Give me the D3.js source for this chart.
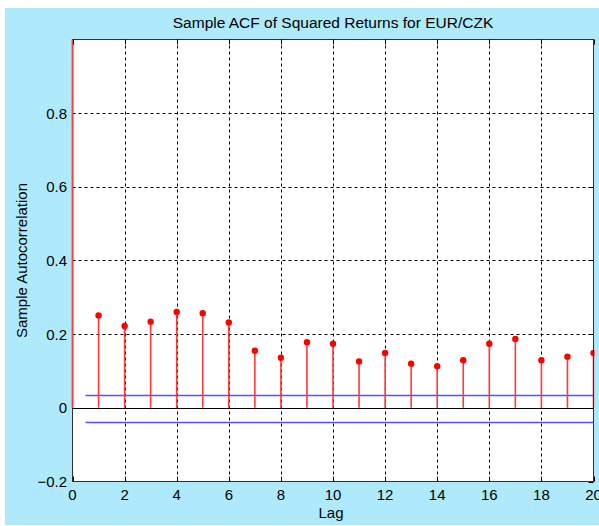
<!DOCTYPE html>
<html>
<head>
<meta charset="utf-8">
<script src="https://cdn.jsdelivr.net/npm/d3@7"></script>
<style>
  html, body { margin: 0; padding: 0; background: #ffffff; }
  svg { display: block; }
  text { font-family: Arial, "Liberation Sans", sans-serif; fill: #000; }
</style>
</head>
<body>
<svg id="chart" width="599" height="526"></svg>
<script>
// Sample autocorrelation of squared EUR/CZK returns, lags 0..20
const lags = d3.range(0, 21);
const acf = [1.0, 0.251, 0.222, 0.234, 0.260, 0.257, 0.232, 0.155, 0.136, 0.178, 0.174,
             0.126, 0.149, 0.120, 0.113, 0.129, 0.174, 0.187, 0.129, 0.139, 0.149];
const bounds = [0.0355, -0.0375];           // approximate 95% confidence bounds
const boundsLagRange = [0.5, 20];
const xTicks = [0, 2, 4, 6, 8, 10, 12, 14, 16, 18, 20];
const yTicks = [-0.2, 0, 0.2, 0.4, 0.6, 0.8];
const yGrid = [0.2, 0.4, 0.6, 0.8];
const xGrid = [2, 4, 6, 8, 10, 12, 14, 16, 18];

const svg = d3.select("#chart");

// figure background
svg.append("rect").attr("x", 5).attr("y", 8).attr("width", 594).attr("height", 517)
  .attr("fill", "#aeeafb");

const plotL = 72.5, plotR = 593.5, plotT = 39.5, plotB = 481.5;
const x = d3.scaleLinear().domain([0, 20]).range([plotL, plotR]);
const y = d3.scaleLinear().domain([-0.2, 1]).range([plotB, plotT]);

// axes area
svg.append("rect").attr("x", plotL).attr("y", plotT)
  .attr("width", plotR - plotL).attr("height", plotB - plotT).attr("fill", "#ffffff");

// dotted grid
const grid = svg.append("g").attr("stroke", "#000").attr("stroke-width", 1)
  .attr("stroke-dasharray", "3,3");
grid.selectAll("line.gx").data(xGrid).join("line")
  .attr("x1", d => Math.round(x(d)) + 0.5).attr("x2", d => Math.round(x(d)) + 0.5)
  .attr("y1", plotT).attr("y2", plotB);
grid.selectAll("line.gy").data(yGrid).join("line")
  .attr("y1", d => Math.round(y(d)) + 0.5).attr("y2", d => Math.round(y(d)) + 0.5)
  .attr("x1", plotL).attr("x2", plotR);

// zero reference line
svg.append("line").attr("x1", plotL).attr("x2", plotR)
  .attr("y1", Math.round(y(0)) + 0.5).attr("y2", Math.round(y(0)) + 0.5)
  .attr("stroke", "#000").attr("stroke-width", 1);

// confidence bounds
svg.append("g").selectAll("line").data(bounds).join("line")
  .attr("x1", x(boundsLagRange[0])).attr("x2", x(boundsLagRange[1]))
  .attr("y1", d => Math.round(y(d)) + 0.5).attr("y2", d => Math.round(y(d)) + 0.5)
  .attr("stroke", "#5252ff").attr("stroke-width", 1.5);

// stems
const clipId = "axclip";
svg.append("clipPath").attr("id", clipId).append("rect")
  .attr("x", plotL - 1).attr("y", plotT).attr("width", plotR - plotL + 2).attr("height", plotB - plotT);
const stems = svg.append("g").attr("clip-path", `url(#${clipId})`);
stems.selectAll("line").data(lags).join("line")
  .attr("x1", d => x(d)).attr("x2", d => x(d))
  .attr("y1", y(0)).attr("y2", d => y(acf[d]))
  .attr("stroke", "#ff3a3a").attr("stroke-width", 1.6);
stems.selectAll("circle").data(lags.filter(d => d > 0)).join("circle")
  .attr("cx", d => x(d)).attr("cy", d => y(acf[d])).attr("r", 3.2)
  .attr("fill", "#ff0000");

// axes box
svg.append("rect").attr("x", plotL).attr("y", plotT)
  .attr("width", plotR - plotL).attr("height", plotB - plotT)
  .attr("fill", "none").attr("stroke", "#303030").attr("stroke-width", 1);
// lag-0 stem drawn over left edge
svg.append("line").attr("x1", x(0)).attr("x2", x(0)).attr("y1", y(0)).attr("y2", y(acf[0]))
  .attr("stroke", "#ff3a3a").attr("stroke-width", 1.6);

// inward tick marks
const tk = svg.append("g").attr("stroke", "#000").attr("stroke-width", 1);
tk.selectAll("line.tb").data(xTicks).join("line")
  .attr("x1", d => Math.round(x(d)) + 0.5).attr("x2", d => Math.round(x(d)) + 0.5)
  .attr("y1", plotB).attr("y2", plotB - 5);
tk.selectAll("line.tt").data(xTicks).join("line")
  .attr("x1", d => Math.round(x(d)) + 0.5).attr("x2", d => Math.round(x(d)) + 0.5)
  .attr("y1", plotT).attr("y2", plotT + 5);
tk.selectAll("line.tr").data(yTicks).join("line")
  .attr("y1", d => Math.round(y(d)) + 0.5).attr("y2", d => Math.round(y(d)) + 0.5)
  .attr("x1", plotR).attr("x2", plotR - 5);

// tick labels
const fmt = d => (d === 0 ? "0" : d3.format(".1f")(d));
svg.append("g").selectAll("text").data(xTicks).join("text")
  .attr("x", d => x(d)).attr("y", 500)
  .attr("text-anchor", "middle").style("font-size", "15px").text(d => d);
svg.append("g").selectAll("text").data(yTicks).join("text")
  .attr("x", 67).attr("y", d => y(d)).attr("dy", "0.36em")
  .attr("text-anchor", "end").style("font-size", "15px").text(fmt);

// titles
svg.append("text").attr("x", (plotL + plotR) / 2).attr("y", 28)
  .attr("text-anchor", "middle").style("font-size", "15.5px")
  .text("Sample ACF of Squared Returns for EUR/CZK");
svg.append("text").attr("x", (plotL + plotR) / 2 - 2).attr("y", 518)
  .attr("text-anchor", "middle").style("font-size", "15px").text("Lag");
svg.append("text").attr("transform", `translate(27, ${(plotT + plotB) / 2}) rotate(-90)`)
  .attr("text-anchor", "middle").style("font-size", "15px").text("Sample Autocorrelation");
</script>
</body>
</html>
